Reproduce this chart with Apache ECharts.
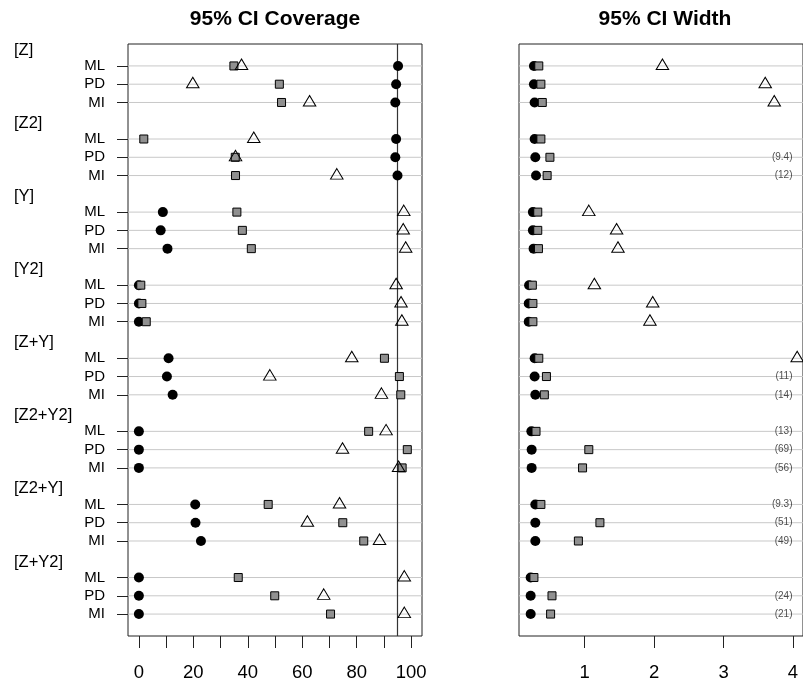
<!DOCTYPE html>
<html>
<head>
<meta charset="utf-8">
<script src="https://cdn.jsdelivr.net/npm/echarts@6/dist/echarts.min.js"></script>
<style>
  html, body { margin: 0; padding: 0; background: #ffffff; }
  #chart { width: 803px; height: 684px; }
</style>
</head>
<body>
<div id="chart"></div>
<script>
// Model specifications and estimation methods (rows of both dot charts)
const groups = ['[Z]', '[Z2]', '[Y]', '[Y2]', '[Z+Y]', '[Z2+Y2]', '[Z2+Y]', '[Z+Y2]'];
const methods = ['ML', 'PD', 'MI'];

// 95% CI coverage (%), one value per group x method, in row order
const coverageDot = [95.2, 94.5, 94.2, 94.5, 94.2, 95.0, 8.8, 8.0, 10.5, 0, 0, 0,
                     10.9, 10.3, 12.4, 0, 0, 0, 20.7, 20.8, 22.8, 0, 0, 0];
const coverageSquare = [34.9, 51.6, 52.4, 1.8, 35.4, 35.5, 36.0, 38.0, 41.3, 0.7, 1.1, 2.7,
                        90.2, 95.7, 96.2, 84.4, 98.6, 96.7, 47.5, 74.9, 82.6, 36.5, 49.9, 70.4];
const coverageTriangle = [37.7, 19.8, 62.7, 42.2, 35.5, 72.7, 97.3, 97.1, 98.0, 94.5, 96.3, 96.6,
                          78.2, 48.1, 89.1, 90.8, 74.8, 95.4, 73.7, 61.9, 88.4, 97.5, 67.9, 97.5];

// 95% CI width, same row order
const widthDot = [0.27, 0.27, 0.28, 0.28, 0.29, 0.30, 0.255, 0.255, 0.265, 0.20, 0.195, 0.195,
                  0.28, 0.28, 0.29, 0.233, 0.237, 0.237, 0.29, 0.29, 0.29, 0.223, 0.223, 0.223];
const widthSquare = [0.34, 0.37, 0.39, 0.37, 0.50, 0.46, 0.325, 0.325, 0.335, 0.247, 0.255, 0.255,
                     0.34, 0.45, 0.42, 0.30, 1.06, 0.97, 0.37, 1.22, 0.91, 0.27, 0.53, 0.51];
const widthTriangle = [2.12, 3.60, 3.73, 4.4, 9.4, 12, 1.06, 1.46, 1.48, 1.14, 1.98, 1.94,
                       4.06, 11, 14, 13, 69, 56, 9.3, 51, 49, 4.3, 24, 21];

// Axis ticks
const coverageTicks = [0, 10, 20, 30, 40, 50, 60, 70, 80, 90, 100];
const coverageTickLabels = [0, 20, 40, 60, 80, 100];
const widthTicks = [1, 2, 3, 4];
const coverageTarget = 95;

// ---- layout helpers ----
const FONT = "'Liberation Sans', Arial, Helvetica, sans-serif";
const rowsPerGroup = methods.length + 1;          // group heading row + one row per method
const rowOf = i => Math.floor(i / methods.length) * rowsPerGroup + (i % methods.length) + 1;
const itemRows = coverageDot.map((_, i) => rowOf(i));
const headingNudge = 0.15;                        // headings sit slightly below their row
const groupRows = groups.map((_, g) => g * rowsPerGroup + headingNudge);
const rowLabel = {};
itemRows.forEach((r, i) => { rowLabel[r] = methods[i % methods.length]; });
const groupLabelAt = v => groups[Math.round((v - headingNudge) / rowsPerGroup)] || '';

const yMin = -0.2, yMax = 32.2;
const widthMin = 0.055, widthMax = 4.144;
const widthLabelX = 4;          // where clipped widths are written
const widthClipValue = 5;       // widths beyond this are written as text

const pts = vals => vals.map((v, i) => [v, itemRows[i]]);

const dotStyle = { symbol: 'circle', symbolSize: 10, itemStyle: { color: '#000', opacity: 1 } };
const squareStyle = { symbol: 'rect', symbolSize: 8,
                      itemStyle: { color: '#909090', borderColor: '#000', borderWidth: 1, opacity: 1 } };
const triStyle = { symbol: 'triangle', symbolSize: [12.5, 10.5], symbolOffset: [0, -1.7],
                   itemStyle: { color: 'rgba(0,0,0,0)', borderColor: '#000', borderWidth: 1, opacity: 1 } };

function guideLines(xi, yi, anchorX) {
  return {
    type: 'custom', xAxisIndex: xi, yAxisIndex: yi, silent: true, z: 1, clip: true,
    data: itemRows.map(r => [anchorX, r]),
    renderItem(params, api) {
      const cs = params.coordSys;
      const y = api.coord([api.value(0), api.value(1)])[1];
      return { type: 'line', shape: { x1: cs.x, y1: y, x2: cs.x + cs.width, y2: y },
               style: { stroke: '#c8c8c8', lineWidth: 1 } };
    }
  };
}

function scatter(xi, yi, data, style, z) {
  return Object.assign({ type: 'scatter', xAxisIndex: xi, yAxisIndex: yi, clip: true, silent: true,
                         z: z, data: data }, style);
}

const option = {
  animation: false,
  backgroundColor: '#ffffff',
  textStyle: { fontFamily: FONT },
  title: [
    { text: '95% CI Coverage', left: 275, top: 9, textAlign: 'center', padding: 0,
      textStyle: { fontSize: 21, fontWeight: 'bold', color: '#000', fontFamily: FONT } },
    { text: '95% CI Width', left: 665, top: 9, textAlign: 'center', padding: 0,
      textStyle: { fontSize: 21, fontWeight: 'bold', color: '#000', fontFamily: FONT } }
  ],
  grid: [
    { left: 128, top: 44, width: 294, height: 592, show: true, borderColor: '#222', borderWidth: 1,
      backgroundColor: 'rgba(0,0,0,0)', containLabel: false },
    { left: 519, top: 44, width: 293, height: 592, show: true, borderColor: '#222', borderWidth: 1,
      backgroundColor: 'rgba(0,0,0,0)', containLabel: false }
  ],
  xAxis: [
    { gridIndex: 0, type: 'value', position: 'bottom', min: -4, max: 104,
      axisLine: { show: false, onZero: false }, splitLine: { show: false },
      axisTick: { show: true, customValues: coverageTicks, length: 12, lineStyle: { color: '#222', width: 1 } },
      axisLabel: { customValues: coverageTickLabels, fontSize: 18.5, color: '#000', margin: 27, fontFamily: FONT } },
    { gridIndex: 1, type: 'value', position: 'bottom', min: widthMin, max: widthMax,
      axisLine: { show: false, onZero: false }, splitLine: { show: false },
      axisTick: { show: true, customValues: widthTicks, length: 12, lineStyle: { color: '#222', width: 1 } },
      axisLabel: { customValues: widthTicks, fontSize: 18.5, color: '#000', margin: 27, fontFamily: FONT } }
  ],
  yAxis: [
    { gridIndex: 0, type: 'value', position: 'left', inverse: true, min: yMin, max: yMax,
      axisLine: { show: false, onZero: false }, splitLine: { show: false },
      axisTick: { show: true, customValues: itemRows, length: 11, lineStyle: { color: '#222', width: 1 } },
      axisLabel: { customValues: itemRows, formatter: v => rowLabel[v] || '', fontSize: 15,
                   color: '#000', margin: 23, fontFamily: FONT } },
    { gridIndex: 0, type: 'value', position: 'left', offset: 0, inverse: true, min: yMin, max: yMax,
      axisLine: { show: false, onZero: false }, splitLine: { show: false },
      axisTick: { show: false },
      axisLabel: { customValues: groupRows, formatter: groupLabelAt, fontSize: 16.5,
                   color: '#000', margin: 114, align: 'left', fontFamily: FONT } },
    { gridIndex: 1, type: 'value', position: 'left', inverse: true, min: yMin, max: yMax,
      axisLine: { show: false, onZero: false }, splitLine: { show: false },
      axisTick: { show: false }, axisLabel: { show: false } }
  ],
  series: [
    guideLines(0, 0, 0),
    guideLines(1, 2, 1),
    {
      // nominal coverage reference line
      type: 'custom', xAxisIndex: 0, yAxisIndex: 0, silent: true, z: 1,
      data: [[coverageTarget, yMin]],
      renderItem(params, api) {
        const cs = params.coordSys;
        const x = api.coord([api.value(0), api.value(1)])[0];
        return { type: 'line', shape: { x1: x, y1: cs.y, x2: x, y2: cs.y + cs.height },
                 style: { stroke: '#333', lineWidth: 1.2 } };
      }
    },
    scatter(0, 0, pts(coverageDot), dotStyle, 3),
    scatter(0, 0, pts(coverageSquare), squareStyle, 4),
    scatter(0, 0, pts(coverageTriangle), triStyle, 5),
    scatter(1, 2, pts(widthDot), dotStyle, 3),
    scatter(1, 2, pts(widthSquare), squareStyle, 4),
    scatter(1, 2, pts(widthTriangle), triStyle, 5),
    {
      // widths far beyond the axis are written at the right edge
      type: 'scatter', xAxisIndex: 1, yAxisIndex: 2, silent: true, z: 6,
      symbolSize: 1, itemStyle: { color: 'rgba(0,0,0,0)' },
      data: widthTriangle.map((v, i) => [widthLabelX, itemRows[i], v]).filter(d => d[2] > widthClipValue),
      label: { show: true, position: 'left', distance: 0, formatter: p => '(' + p.value[2] + ')',
               fontSize: 10, color: '#222', fontFamily: FONT }
    }
  ]
};

const chart = echarts.init(document.getElementById('chart'), null, { renderer: 'canvas' });
chart.setOption(option);
</script>
</body>
</html>
